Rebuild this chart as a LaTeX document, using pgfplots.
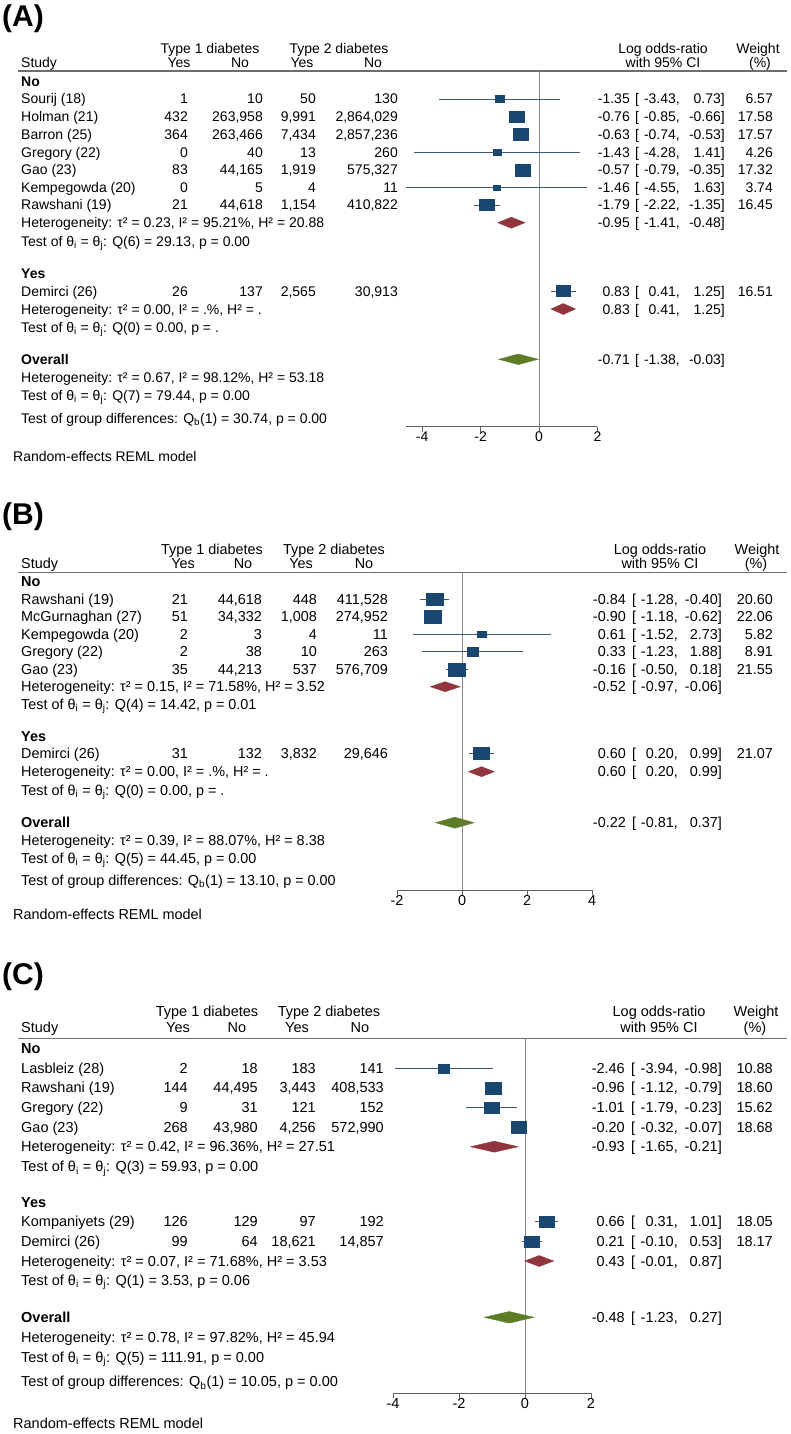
\documentclass[border=0pt]{standalone}
\usepackage{fontspec}
\setmainfont{Liberation Sans}
\usepackage{pgfplots}
\usepackage{pgfplotstable}
\pgfplotsset{compat=1.18}
\definecolor{sqnavy}{RGB}{26,71,111}
\definecolor{cinavy}{RGB}{62,88,114}
\definecolor{dmaroon}{RGB}{144,53,59}
\definecolor{dgreen}{RGB}{92,124,40}
\definecolor{axgray}{RGB}{95,95,95}
\definecolor{zgray}{RGB}{135,135,135}
\definecolor{hgray}{RGB}{110,110,110}

\pgfdeclareplotmark{fsq}{%
  \pgfpathrectangle{\pgfqpoint{-\pgfplotmarksize}{-0.78\pgfplotmarksize}}{\pgfqpoint{2\pgfplotmarksize}{1.56\pgfplotmarksize}}%
  \pgfusepathqfillstroke}

\newcommand\fA{\fontsize{14}{16}\selectfont}
\newcommand\fB{\fontsize{14.4}{16}\selectfont}
\newcommand\fC{\fontsize{14.5}{16}\selectfont}

\pgfplotsset{forest/.style={
  axis x line*=bottom, axis y line=none,
  y=1pt, clip=false, ytick=\empty,
  tick align=outside, major tick length=5pt,
  x axis line style={draw=axgray, line width=0.9pt, -},
  tick style={draw=axgray, line width=0.9pt},
  xticklabel style={inner sep=0pt, text=black},
  anchor=south west,
}}

\tikzset{
  L/.style={anchor=base west, inner sep=0pt, yshift=-5pt},
  R/.style={anchor=base east, inner sep=0pt, yshift=-5pt},
  C/.style={anchor=base, inner sep=0pt, yshift=-5pt},
}

\newcommand\setcols[9]{\def\cA{#1}\def\cB{#2}\def\cC{#3}\def\cD{#4}\def\cE{#5}\def\cF{#6}\def\cG{#7}\def\cH{#8}\def\cI{#9}}
\newcommand\srow[6]{\node[L] at (21pt,-#1pt){#2};\node[R] at (\cA pt,-#1pt){#3};\node[R] at (\cB pt,-#1pt){#4};\node[R] at (\cC pt,-#1pt){#5};\node[R] at (\cD pt,-#1pt){#6};}
\newcommand\cirow[5]{\node[R] at (\cE pt,-#1pt){#2};\node[L] at (\cF pt,-#1pt){[};\node[R] at (\cG pt,-#1pt){#3,};\node[R] at (\cH pt,-#1pt){#4]};\node[R] at (\cI pt,-#1pt){#5};}
\newcommand\tx[2]{\node[L] at (21pt,-#1pt){#2};}
\newcommand\bx[2]{\node[L] at (21pt,-#1pt){\bfseries #2};}
\newcommand\het[4]{\tx{#1}{Heterogeneity: τ² = #2, I² = #3, H² = #4}}
\newcommand\tst[4]{\tx{#1}{Test of θ\textsubscript{i} = θ\textsubscript{j}: Q(#2) = #3, p = #4}}
\newcommand\grp[3]{\tx{#1}{Test of group differences: Q\textsubscript{b}(1) = #2, p = #3}}

% y = -(pixel row), est, lower, upper, weight
\pgfplotstableread{
y est lo hi w
-99 -1.35 -3.43 0.73 6.57
-116.7 -0.76 -0.85 -0.66 17.58
-134.3 -0.63 -0.74 -0.53 17.57
-152.3 -1.43 -4.28 1.41 4.26
-170 -0.57 -0.79 -0.35 17.32
-187.7 -1.46 -4.55 1.63 3.74
-205 -1.79 -2.22 -1.35 16.45
-291 0.83 0.41 1.25 16.51
}\tA
\pgfplotstableread{
y est lo hi w
-599.3 -0.84 -1.28 -0.40 20.60
-616.7 -0.90 -1.18 -0.62 22.06
-634.3 0.61 -1.52 2.73 5.82
-651.7 0.33 -1.23 1.88 8.91
-669.3 -0.16 -0.50 0.18 21.55
-753.3 0.60 0.20 0.99 21.07
}\tB
\pgfplotstableread{
y est lo hi w
-1068.3 -2.46 -3.94 -0.98 10.88
-1087.7 -0.96 -1.12 -0.79 18.60
-1107.7 -1.01 -1.79 -0.23 15.62
-1127.3 -0.20 -0.32 -0.07 18.68
-1221.7 0.66 0.31 1.01 18.05
-1241.7 0.21 -0.10 0.53 18.17
}\tC

\newcommand\studies[1]{%
  \addplot[draw=none, mark=none, forget plot,
    error bars/.cd, x dir=both, x explicit, error mark=none,
    error bar style={draw=cinavy, line width=0.9pt, solid}]
    table[x=est, y=y, x error plus expr=\thisrow{hi}-\thisrow{est}, x error minus expr=\thisrow{est}-\thisrow{lo}] {#1};
  \addplot[scatter, only marks, mark=fsq,
    scatter/use mapped color={draw=sqnavy, fill=sqnavy},
    visualization depends on={1.78*sqrt(\thisrow{w}) \as \msz},
    scatter/@pre marker code/.append style={/tikz/mark size=\msz}]
    table[x=est, y=y] {#1};
}

\begin{document}
\begin{tikzpicture}
\useasboundingbox (0pt,0pt) rectangle (790pt,-1434pt);

% ================= PANEL A =================
\node[anchor=base west, inner sep=0pt, font=\fontsize{30}{30}\selectfont\bfseries] at (2pt,-27pt) {(A)};
\draw[hgray, line width=1.6pt] (18pt,-71pt) -- (787pt,-71pt);
\begin{scope}[every node/.append style={font=\fA}]
\node[C] at (210pt,-49pt){Type 1 diabetes};
\node[C] at (339pt,-49pt){Type 2 diabetes};
\node[L] at (21pt,-63pt){Study};
\node[C] at (179pt,-63pt){Yes};
\node[C] at (240pt,-63pt){No};
\node[C] at (302pt,-63pt){Yes};
\node[C] at (373pt,-63pt){No};
\node[C] at (663pt,-49pt){Log odds-ratio};
\node[C] at (663pt,-63pt){with 95\% CI};
\node[C] at (758pt,-49pt){Weight};
\node[C] at (760pt,-63pt){(\%)};
\setcols{188}{263}{316}{398}{630}{635}{680}{725}{773}
\bx{82}{No}
\srow{99}{Sourij (18)}{1}{10}{50}{130}\cirow{99}{-1.35}{-3.43}{0.73}{6.57}
\srow{116.7}{Holman (21)}{432}{263,958}{9,991}{2,864,029}\cirow{116.7}{-0.76}{-0.85}{-0.66}{17.58}
\srow{134.3}{Barron (25)}{364}{263,466}{7,434}{2,857,236}\cirow{134.3}{-0.63}{-0.74}{-0.53}{17.57}
\srow{152.3}{Gregory (22)}{0}{40}{13}{260}\cirow{152.3}{-1.43}{-4.28}{1.41}{4.26}
\srow{170}{Gao (23)}{83}{44,165}{1,919}{575,327}\cirow{170}{-0.57}{-0.79}{-0.35}{17.32}
\srow{187.7}{Kempegowda (20)}{0}{5}{4}{11}\cirow{187.7}{-1.46}{-4.55}{1.63}{3.74}
\srow{205}{Rawshani (19)}{21}{44,618}{1,154}{410,822}\cirow{205}{-1.79}{-2.22}{-1.35}{16.45}
\het{222.7}{0.23}{95.21\%}{20.88}\cirow{222.7}{-0.95}{-1.41}{-0.48}{}
\tst{241}{6}{29.13}{0.00}
\bx{273.3}{Yes}
\srow{291}{Demirci (26)}{26}{137}{2,565}{30,913}\cirow{291}{0.83}{0.41}{1.25}{16.51}
\het{309}{0.00}{.\%}{.}\cirow{309}{0.83}{0.41}{1.25}{}
\tst{327}{0}{0.00}{.}
\bx{359.3}{Overall}\cirow{359.3}{-0.71}{-1.38}{-0.03}{}
\het{377.3}{0.67}{98.12\%}{53.18}
\tst{395.3}{7}{79.44}{0.00}
\grp{418.3}{30.74}{0.00}
\node[L] at (13pt,-456pt){Random-effects REML model};
\end{scope}
\begin{axis}[forest, at={(406.14pt,-426.7pt)}, x=29.2pt,
  xmin=-4.55, xmax=2, ymin=-426.7, ymax=-71,
  xtick={-4,-2,0,2}, xticklabels={-4,-2,0,2}, xticklabel style={font=\fA}]
\addplot[zgray, line width=0.9pt, forget plot] coordinates {(0,-71) (0,-426.7)};
\studies{\tA}
\addplot[fill=dmaroon, draw=dmaroon] coordinates {(-1.41,-222.7) (-0.95,-217.2) (-0.48,-222.7) (-0.95,-228.2)} -- cycle;
\addplot[fill=dmaroon, draw=dmaroon] coordinates {(0.41,-309) (0.83,-303.5) (1.25,-309) (0.83,-314.5)} -- cycle;
\addplot[fill=dgreen, draw=dgreen] coordinates {(-1.38,-359.3) (-0.71,-354) (-0.03,-359.3) (-0.71,-364.6)} -- cycle;
\end{axis}

% ================= PANEL B =================
\node[anchor=base west, inner sep=0pt, font=\fontsize{30}{30}\selectfont\bfseries] at (2pt,-524pt) {(B)};
\draw[hgray, line width=1.6pt] (18pt,-572.3pt) -- (787pt,-572.3pt);
\begin{scope}[every node/.append style={font=\fB}]
\node[C] at (212pt,-549.3pt){Type 1 diabetes};
\node[C] at (334pt,-549.3pt){Type 2 diabetes};
\node[L] at (21pt,-563.3pt){Study};
\node[C] at (183pt,-563.3pt){Yes};
\node[C] at (243pt,-563.3pt){No};
\node[C] at (301pt,-563.3pt){Yes};
\node[C] at (364pt,-563.3pt){No};
\node[C] at (660pt,-549.3pt){Log odds-ratio};
\node[C] at (660pt,-563.3pt){with 95\% CI};
\node[C] at (757pt,-549.3pt){Weight};
\node[C] at (756pt,-563.3pt){(\%)};
\setcols{188}{262}{317}{388}{626}{632}{678}{722}{773}
\bx{581.7}{No}
\srow{599.3}{Rawshani (19)}{21}{44,618}{448}{411,528}\cirow{599.3}{-0.84}{-1.28}{-0.40}{20.60}
\srow{616.7}{McGurnaghan (27)}{51}{34,332}{1,008}{274,952}\cirow{616.7}{-0.90}{-1.18}{-0.62}{22.06}
\srow{634.3}{Kempegowda (20)}{2}{3}{4}{11}\cirow{634.3}{0.61}{-1.52}{2.73}{5.82}
\srow{651.7}{Gregory (22)}{2}{38}{10}{263}\cirow{651.7}{0.33}{-1.23}{1.88}{8.91}
\srow{669.3}{Gao (23)}{35}{44,213}{537}{576,709}\cirow{669.3}{-0.16}{-0.50}{0.18}{21.55}
\het{686.7}{0.15}{71.58\%}{3.52}\cirow{686.7}{-0.52}{-0.97}{-0.06}{}
\tst{704.3}{4}{14.42}{0.01}
\bx{736}{Yes}
\srow{753.3}{Demirci (26)}{31}{132}{3,832}{29,646}\cirow{753.3}{0.60}{0.20}{0.99}{21.07}
\het{771.7}{0.00}{.\%}{.}\cirow{771.7}{0.60}{0.20}{0.99}{}
\tst{790}{0}{0.00}{.}
\bx{822.7}{Overall}\cirow{822.7}{-0.22}{-0.81}{0.37}{}
\het{840.5}{0.39}{88.07\%}{8.38}
\tst{858}{5}{44.45}{0.00}
\grp{880}{13.10}{0.00}
\node[L] at (13pt,-914pt){Random-effects REML model};
\end{scope}
\begin{axis}[forest, at={(397pt,-890pt)}, x=32.5pt,
  xmin=-2, xmax=4, ymin=-890, ymax=-572.3,
  xtick={-2,0,2,4}, xticklabels={-2,0,2,4}, xticklabel style={font=\fB}]
\addplot[zgray, line width=0.9pt, forget plot] coordinates {(0,-572.3) (0,-890)};
\studies{\tB}
\addplot[fill=dmaroon, draw=dmaroon] coordinates {(-0.97,-686.7) (-0.52,-681.7) (-0.06,-686.7) (-0.52,-691.7)} -- cycle;
\addplot[fill=dmaroon, draw=dmaroon] coordinates {(0.20,-771.7) (0.60,-766.7) (0.99,-771.7) (0.60,-776.7)} -- cycle;
\addplot[fill=dgreen, draw=dgreen] coordinates {(-0.81,-822.7) (-0.22,-817.2) (0.37,-822.7) (-0.22,-828.2)} -- cycle;
\end{axis}

% ================= PANEL C =================
\node[anchor=base west, inner sep=0pt, font=\fontsize{30}{30}\selectfont\bfseries] at (2pt,-984pt) {(C)};
\draw[hgray, line width=1.6pt] (18pt,-1038.3pt) -- (787pt,-1038.3pt);
\begin{scope}[every node/.append style={font=\fC}]
\node[C] at (207pt,-1011.7pt){Type 1 diabetes};
\node[C] at (329pt,-1011.7pt){Type 2 diabetes};
\node[L] at (21pt,-1027.7pt){Study};
\node[C] at (178pt,-1027.7pt){Yes};
\node[C] at (237pt,-1027.7pt){No};
\node[C] at (297pt,-1027.7pt){Yes};
\node[C] at (360pt,-1027.7pt){No};
\node[C] at (659pt,-1011.7pt){Log odds-ratio};
\node[C] at (659pt,-1027.7pt){with 95\% CI};
\node[C] at (756pt,-1011.7pt){Weight};
\node[C] at (755pt,-1027.7pt){(\%)};
\setcols{188}{258}{316}{384}{625}{631}{678}{722}{773}
\bx{1048.3}{No}
\srow{1068.3}{Lasbleiz (28)}{2}{18}{183}{141}\cirow{1068.3}{-2.46}{-3.94}{-0.98}{10.88}
\srow{1087.7}{Rawshani (19)}{144}{44,495}{3,443}{408,533}\cirow{1087.7}{-0.96}{-1.12}{-0.79}{18.60}
\srow{1107.7}{Gregory (22)}{9}{31}{121}{152}\cirow{1107.7}{-1.01}{-1.79}{-0.23}{15.62}
\srow{1127.3}{Gao (23)}{268}{43,980}{4,256}{572,990}\cirow{1127.3}{-0.20}{-0.32}{-0.07}{18.68}
\het{1146.7}{0.42}{96.36\%}{27.51}\cirow{1146.7}{-0.93}{-1.65}{-0.21}{}
\tst{1166.7}{3}{59.93}{0.00}
\bx{1202.7}{Yes}
\srow{1221.7}{Kompaniyets (29)}{126}{129}{97}{192}\cirow{1221.7}{0.66}{0.31}{1.01}{18.05}
\srow{1241.7}{Demirci (26)}{99}{64}{18,621}{14,857}\cirow{1241.7}{0.21}{-0.10}{0.53}{18.17}
\het{1261}{0.07}{71.68\%}{3.53}\cirow{1261}{0.43}{-0.01}{0.87}{}
\tst{1280}{1}{3.53}{0.06}
\bx{1317.3}{Overall}\cirow{1317.3}{-0.48}{-1.23}{0.27}{}
\het{1337.5}{0.78}{97.82\%}{45.94}
\tst{1357}{5}{111.91}{0.00}
\grp{1381.7}{10.05}{0.00}
\node[L] at (13pt,-1423pt){Random-effects REML model};
\end{scope}
\begin{axis}[forest, at={(393pt,-1393.3pt)}, x=33pt,
  xmin=-4, xmax=2, ymin=-1393.3, ymax=-1038.3,
  xtick={-4,-2,0,2}, xticklabels={-4,-2,0,2}, xticklabel style={font=\fC}]
\addplot[zgray, line width=0.9pt, forget plot] coordinates {(0,-1038.3) (0,-1393.3)};
\studies{\tC}
\addplot[fill=dmaroon, draw=dmaroon] coordinates {(-1.65,-1146.7) (-0.93,-1141.2) (-0.21,-1146.7) (-0.93,-1152.2)} -- cycle;
\addplot[fill=dmaroon, draw=dmaroon] coordinates {(-0.01,-1261) (0.43,-1255.5) (0.87,-1261) (0.43,-1266.5)} -- cycle;
\addplot[fill=dgreen, draw=dgreen] coordinates {(-1.23,-1317.3) (-0.48,-1311.5) (0.27,-1317.3) (-0.48,-1323.1)} -- cycle;
\end{axis}
\end{tikzpicture}
\end{document}
